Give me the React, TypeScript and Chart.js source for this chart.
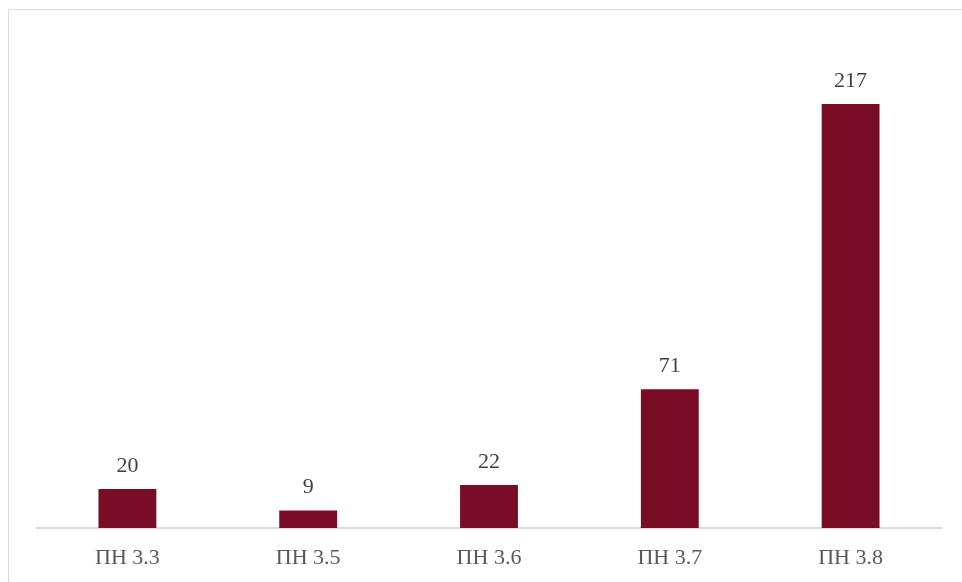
import React, { useEffect, useRef } from 'react';
import { Chart, registerables } from 'chart.js';

Chart.register(...registerables);

const categories = ['ПН 3.3', 'ПН 3.5', 'ПН 3.6', 'ПН 3.7', 'ПН 3.8'];
const values = [20, 9, 22, 71, 217];

const barColor = '#780d25';
const serif = '"Liberation Serif", "Times New Roman", serif';

// draws the numbers above each bar
const valueLabels = {
  id: 'valueLabels',
  afterDatasetsDraw(chart: Chart) {
    const { ctx } = chart;
    const meta = chart.getDatasetMeta(0);
    ctx.save();
    ctx.font = `22px ${serif}`;
    ctx.fillStyle = '#404040';
    ctx.textAlign = 'center';
    ctx.textBaseline = 'alphabetic';
    meta.data.forEach((bar: any, i: number) => {
      ctx.fillText(String(values[i]), bar.x, bar.y - 17);
    });
    ctx.restore();
  },
};

const App: React.FC = () => {
  const chartRef = useRef<HTMLCanvasElement>(null);
  const chartInstance = useRef<Chart | null>(null);

  useEffect(() => {
    if (!chartRef.current) return;
    if (chartInstance.current) chartInstance.current.destroy();

    chartInstance.current = new Chart(chartRef.current, {
      type: 'bar',
      data: {
        labels: categories,
        datasets: [
          {
            data: values,
            backgroundColor: barColor,
            categoryPercentage: 1,
            barPercentage: 0.32,
          },
        ],
      },
      options: {
        animation: false,
        responsive: true,
        maintainAspectRatio: false,
        layout: { padding: { left: 28, right: 21, top: 49, bottom: 0 } },
        plugins: {
          legend: { display: false },
          tooltip: { enabled: false },
        },
        scales: {
          x: {
            grid: { display: false, drawTicks: false },
            border: { color: '#d9d9d9', width: 2 },
            ticks: {
              padding: 17,
              color: '#595959',
              font: { family: serif, size: 22 },
            },
            afterFit: (scale: any) => {
              scale.height = 54;
            },
          },
          y: {
            display: false,
            min: 0,
            max: 240,
          },
        },
      },
      plugins: [valueLabels],
    });

    return () => {
      if (chartInstance.current) {
        chartInstance.current.destroy();
        chartInstance.current = null;
      }
    };
  }, []);

  return (
    <div
      style={{
        position: 'fixed',
        left: 8,
        top: 9,
        width: 960,
        height: 580,
        border: '1px solid #d9d9d9',
        background: '#fff',
      }}
    >
      <div style={{ width: 953, height: 572, position: 'relative' }}>
        <canvas ref={chartRef} />
      </div>
    </div>
  );
};

export default App;
